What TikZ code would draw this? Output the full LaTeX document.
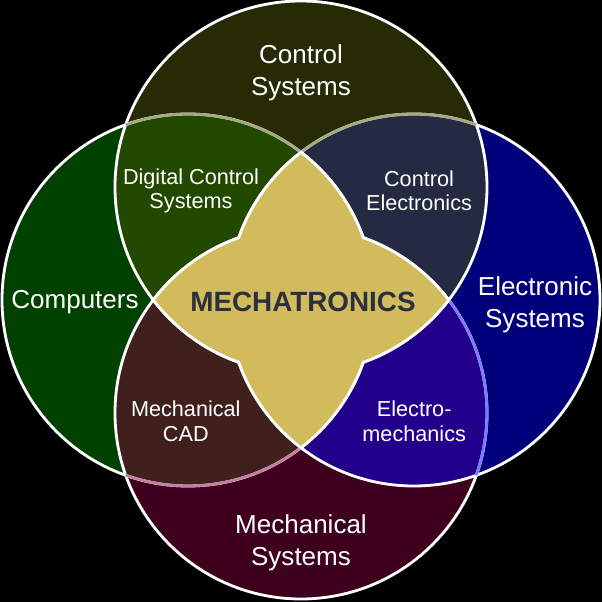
\documentclass[tikz,border=0pt]{standalone}
\usepackage{fontspec}
\setmainfont{Liberation Sans}
\usepackage{tikz}
\usetikzlibrary{positioning}
\usepackage{xcolor}
\definecolor{CtrlOlive}{RGB}{38,42,5}
\definecolor{CompGreen}{RGB}{0,65,0}
\definecolor{ElecBlue}{RGB}{0,0,122}
\definecolor{MechWine}{RGB}{62,0,28}
\definecolor{DigGreen}{RGB}{35,72,0}
\definecolor{CtrlNavy}{RGB}{35,42,65}
\definecolor{CadBrown}{RGB}{64,32,28}
\definecolor{EmPurple}{RGB}{35,0,140}
\definecolor{MechGold}{RGB}{210,187,92}
\definecolor{MechText}{RGB}{44,48,62}
\definecolor{FadeOlive}{RGB}{165,170,133}
\definecolor{FadePink}{RGB}{196,128,160}
\definecolor{FadeBlue}{RGB}{123,123,255}

\begin{document}
\begin{tikzpicture}[
  area/.style={font=\fontsize{18.5}{22.7}\selectfont,text=white,align=center},
  overlap/.style={font=\fontsize{15.4}{17.4}\selectfont,text=white,align=center},
  rim/.style={draw=white,line width=2pt},
]
\fill[black] (-7.525,-7.55) rectangle (7.525,7.5);
\useasboundingbox (-7.525,-7.55) rectangle (7.525,7.5);
\coordinate (cT) at (0,2.825);
\coordinate (cB) at (0,-2.825);
\coordinate (cL) at (-2.825,0);
\coordinate (cR) at (2.825,0);
% the four fields
\fill[CtrlOlive] (cT) circle (4.65);
\fill[CompGreen] (cL) circle (4.65);
\fill[ElecBlue] (cR) circle (4.65);
\fill[MechWine] (cB) circle (4.65);
% pairwise overlaps
\begin{scope}
  \clip (cT) circle (4.65);
  \fill[DigGreen] (cL) circle (4.65);
  \fill[CtrlNavy] (cR) circle (4.65);
\end{scope}
\begin{scope}
  \clip (cB) circle (4.65);
  \fill[CadBrown] (cL) circle (4.65);
  \fill[EmPurple] (cR) circle (4.65);
\end{scope}
% outlines
\foreach \c in {cT,cL,cR,cB}
  \draw[rim] (\c) circle (4.65);
% faded arcs under the upper and lower fields
\draw[rim,draw=FadeOlive] ([shift={(52.59:4.65)}]cL) arc[start angle=52.59,end angle=109.56,radius=4.65];
\draw[rim,draw=FadeOlive] ([shift={(70.44:4.65)}]cR) arc[start angle=70.44,end angle=127.41,radius=4.65];
\draw[rim,draw=FadePink] ([shift={(-109.56:4.65)}]cL) arc[start angle=-109.56,end angle=-52.59,radius=4.65];
\draw[rim,draw=FadeBlue] ([shift={(-19.56:4.65)}]cB) arc[start angle=-19.56,end angle=37.41,radius=4.65];
% MECHATRONICS core
\filldraw[rim,fill=MechGold] (0,3.6935)
  arc[start angle=127.41,end angle=160.44,radius=4.65]
  arc[start angle=109.56,end angle=142.59,radius=4.65]
  arc[start angle=217.41,end angle=250.44,radius=4.65]
  arc[start angle=199.56,end angle=232.59,radius=4.65]
  arc[start angle=-52.59,end angle=-19.56,radius=4.65]
  arc[start angle=289.56,end angle=322.59,radius=4.65]
  arc[start angle=37.41,end angle=70.44,radius=4.65]
  arc[start angle=19.56,end angle=52.59,radius=4.65] -- cycle;
% labels
\node[area] (ctrl) at (0,5.68) {Control\\Systems};
\node[area] (comp) at (-5.65,-0.05) {Computers};
\node[area] (elec) at (5.85,-0.12) {Electronic\\Systems};
\node[area] (mech) at (0,-6.07) {Mechanical\\Systems};
\node[overlap] (dcs) at (-2.75,2.73) {Digital Control\\Systems};
\node[overlap] (ce) at (2.95,2.73) {Control\\Electronics};
\node[overlap] (cad) at (-2.88,-3.03) {Mechanical\\CAD};
\node[overlap] (em) at (2.83,-3.03) {Electro-\\mechanics};
\node[font=\fontsize{19.8}{23}\selectfont\bfseries,text=MechText] (core) at (0.05,-0.05) {MECHATRONICS};
\end{tikzpicture}
\end{document}
